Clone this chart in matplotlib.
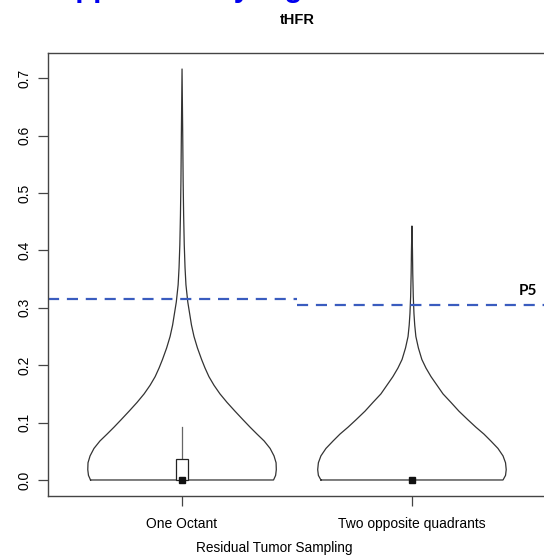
import matplotlib
matplotlib.use("Agg")
import matplotlib.pyplot as plt
import numpy as np

plt.rcParams['font.family'] = ['Liberation Sans', 'DejaVu Sans']

# ---- data ----
categories = ["One Octant", "Two opposite quadrants"]
y_ticks = [0.0, 0.1, 0.2, 0.3, 0.4, 0.5, 0.6, 0.7]

# violin outline: value levels and half-widths (x units)
oct_y = [0, .008, .018, .03, .042, .055, .068, .08, .092, .105, .12, .135, .15, .165,
         .18, .195, .21, .23, .25, .27, .29, .31, .34, .37, .41, .46, .52, .60, .716]
oct_hw = [.398, .407, .410, .409, .400, .383, .357, .326, .296, .265, .230, .196, .165,
          .139, .117, .100, .085, .067, .052, .041, .033, .025, .017, .013, .0096, .007,
          .0048, .003, 0]
quad_y = [0, .008, .018, .03, .042, .055, .068, .08, .092, .105, .12, .135, .15, .165,
          .18, .195, .21, .23, .25, .27, .29, .32, .36, .40, .4425]
quad_hw = [.396, .407, .410, .407, .396, .374, .343, .313, .278, .243, .204, .170, .135,
           .109, .083, .061, .043, .028, .017, .012, .0087, .0057, .0035, .0022, 0]

# box summaries
oct_q1, oct_med, oct_q3, oct_whisk = 0.0, 0.0, 0.037, 0.092
quad_q1, quad_med, quad_q3, quad_whisk = 0.0, 0.0, 0.0, 0.0

p5_values = [0.315, 0.304]
p5_label = "P5"
title = "tHFR"
xlabel = "Residual Tumor Sampling"
heading = "Supplementary Figure"

# ---- figure ----
W, H = 544, 555
fig = plt.figure(figsize=(W / 100, H / 100), dpi=100)
ax_l, ax_r, ax_t, ax_b = 48, 546, 52.6, 496.4
ax = fig.add_axes([ax_l / W, 1 - ax_b / H, (ax_r - ax_l) / W, (ax_b - ax_t) / H])
ax.set_xlim(0.417, 2.583)
ax.set_ylim(-0.0286, 0.7446)

outline = '#333333'
for pos, ys, hws in [(1, oct_y, oct_hw), (2, quad_y, quad_hw)]:
    ys = np.array(ys); hws = np.array(hws)
    xs = np.concatenate([pos - hws, (pos + hws)[::-1], [pos - hws[0]]])
    yy = np.concatenate([ys, ys[::-1], [ys[0]]])
    ax.plot(xs, yy, color=outline, lw=0.9, solid_joinstyle='round')

# octant box
bw = 0.026
ax.plot([1, 1], [oct_q3, oct_whisk], color='#666666', lw=0.9)
ax.add_patch(plt.Rectangle((1 - bw, oct_q1), 2 * bw, oct_q3 - oct_q1,
                           facecolor='white', edgecolor='#222222', lw=0.9, zorder=3))
ax.plot([1], [oct_med], marker='s', ms=4.5, color='#111111', zorder=4)
ax.plot([2], [quad_med], marker='s', ms=4.5, color='#111111', zorder=4)

# P5 dashed lines
dash_col = '#3a5cbf'
ax.plot([0.417, 1.5], [p5_values[0]] * 2, color=dash_col, lw=1.6, dashes=(5, 3.5))
ax.plot([1.5, 2.583], [p5_values[1]] * 2, color=dash_col, lw=1.6, dashes=(5, 3.5))
fig.text(528 / W, 1 - 291 / H, p5_label, fontsize=11, fontweight='bold',
         family=['Lato', 'DejaVu Sans'], ha='center', va='center')

for s in ax.spines.values():
    s.set_color('#444444'); s.set_linewidth(1.0)

ax.set_yticks(y_ticks)
ax.set_yticklabels([f"{v:.1f}" for v in y_ticks], rotation=90, va='center', fontsize=10)
ax.set_xticks([1, 2])
ax.set_xticklabels(categories, fontsize=10)
ax.tick_params(axis='both', length=7, color='#444444', width=0.9, pad=6)
ax.tick_params(axis='y', pad=5)
ax.tick_params(axis='x', pad=8)

fig.text(274 / W, 1 - 20 / H, title, fontsize=10.5, fontweight='bold', ha='center', va='center') if False else \
    fig.text(297 / W, 1 - 20 / H, title, fontsize=10.5, fontweight='bold', ha='center', va='center')
fig.text(274 / W, 1 - 552 / H, xlabel, fontsize=9.8, ha='center', va='baseline')
fig.text(38 / W, 1 + 3 / H, heading, fontsize=21.2, fontweight='bold', color='#0000ee',
         ha='left', va='baseline')

fig.savefig("out.png", dpi=100)
